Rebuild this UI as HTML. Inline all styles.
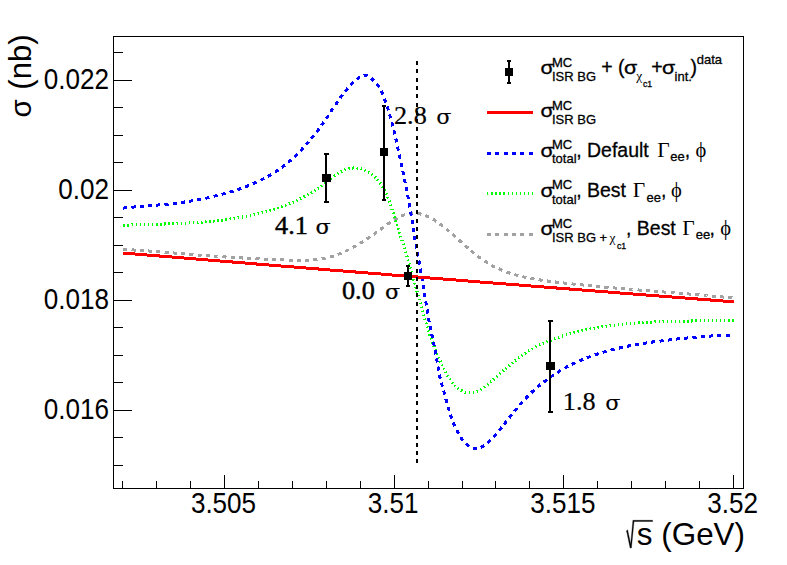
<!DOCTYPE html>
<html lang="en"><head><meta charset="utf-8"><title>cross section vs sqrt(s)</title>
<style>
html,body{margin:0;padding:0;background:#fff;}
body{width:787px;height:565px;overflow:hidden;}
svg{display:block;}
.sans{font-family:"Liberation Sans",Arial,Helvetica,sans-serif;fill:#000;}
.ser{font-family:"Liberation Serif","Times New Roman",Times,serif;fill:#000;}
.lg{stroke:#000;stroke-width:0.3px;}
.dser{font-family:"DejaVu Serif","Liberation Serif",serif;fill:#000;}
</style></head><body>
<svg width="787" height="565" viewBox="0 0 787 565">
<rect x="0" y="0" width="787" height="565" fill="#ffffff"/>
<g fill="none" shape-rendering="crispEdges" stroke-linejoin="round">
<path d="M123.3 249.4L124.0 249.4L124.7 249.5L125.4 249.5L126.1 249.5L126.8 249.6L127.5 249.6L128.2 249.7L128.9 249.7L129.6 249.7L130.3 249.8L131.0 249.8L131.8 249.9L132.5 249.9L133.2 249.9L133.9 250.0L134.6 250.0L135.3 250.1L136.0 250.1L136.7 250.2L137.4 250.2L138.1 250.3L138.9 250.3L139.6 250.4L140.3 250.4L141.0 250.4L141.7 250.5L142.4 250.5L143.1 250.6L143.8 250.6L144.6 250.7L145.3 250.7L146.0 250.8L146.7 250.8L147.4 250.9L148.1 250.9L148.8 251.0L149.5 251.1L150.3 251.1L151.0 251.2L151.7 251.2L152.4 251.3L153.1 251.3L153.8 251.4L154.5 251.4L155.3 251.5L156.0 251.5L156.7 251.6L157.4 251.6L158.1 251.7L158.8 251.8L159.6 251.8L160.3 251.9L161.0 251.9L161.7 252.0L162.4 252.0L163.1 252.1L163.9 252.2L164.6 252.2L165.3 252.3L166.0 252.3L166.7 252.4L167.4 252.5L168.2 252.5L168.9 252.6L169.6 252.6L170.3 252.7L171.0 252.7L171.7 252.8L172.5 252.9L173.2 252.9L173.9 253.0L174.6 253.0L175.3 253.1L176.0 253.2L176.8 253.2L177.5 253.3L178.2 253.3L178.9 253.4L179.6 253.5L180.3 253.5L181.1 253.6L181.8 253.6L182.5 253.7L183.2 253.8L183.9 253.8L184.6 253.9L185.4 253.9L186.1 254.0L186.8 254.1L187.5 254.1L188.2 254.2L188.9 254.2L189.7 254.3L190.4 254.4L191.1 254.4L191.8 254.5L192.5 254.5L193.2 254.6L194.0 254.7L194.7 254.7L195.4 254.8L196.1 254.8L196.8 254.9L197.5 254.9L198.2 255.0L199.0 255.1L199.7 255.1L200.4 255.2L201.1 255.2L201.8 255.3L202.5 255.3L203.2 255.4L204.0 255.5L204.7 255.5L205.4 255.6L206.1 255.6L206.8 255.7L207.5 255.7L208.2 255.8L209.0 255.8L209.7 255.9L210.4 255.9L211.1 256.0L211.8 256.0L212.5 256.1L213.2 256.2L213.9 256.2L214.6 256.3L215.4 256.3L216.1 256.4L216.8 256.4L217.5 256.5L218.2 256.5L218.9 256.6L219.6 256.6L220.3 256.7L221.0 256.7L221.7 256.7L222.5 256.8L223.2 256.8L223.9 256.9L224.6 256.9L225.3 257.0L226.0 257.0L226.7 257.1L227.4 257.1L228.1 257.2L228.8 257.2L229.5 257.2L230.2 257.3L231.0 257.3L231.7 257.4L232.4 257.4L233.1 257.5L233.8 257.5L234.5 257.5L235.2 257.6L235.9 257.6L236.6 257.7L237.3 257.7L238.0 257.7L238.7 257.8L239.4 257.8L240.2 257.9L240.9 257.9L241.6 257.9L242.3 258.0L243.0 258.0L243.7 258.1L244.4 258.1L245.1 258.1L245.8 258.2L246.5 258.2L247.2 258.2L248.0 258.3L248.7 258.3L249.4 258.4L250.1 258.4L250.8 258.4L251.5 258.5L252.2 258.5L252.9 258.5L253.6 258.6L254.3 258.6L255.1 258.6L255.8 258.7L256.5 258.7L257.2 258.7L257.9 258.8L258.6 258.8L259.3 258.8L260.0 258.9L260.7 258.9L261.5 258.9L262.2 259.0L262.9 259.0L263.6 259.0L264.3 259.1L265.0 259.1L265.8 259.1L266.5 259.2L267.2 259.2L267.9 259.2L268.6 259.3L269.3 259.3L270.1 259.3L270.8 259.4L271.5 259.4L272.2 259.4L272.9 259.4L273.7 259.5L274.4 259.5L275.1 259.5L275.8 259.6L276.5 259.6L277.3 259.6L278.0 259.7L278.7 259.7L279.4 259.7L280.2 259.8L280.9 259.8L281.6 259.8L282.3 259.8L283.1 259.9L283.8 259.9L284.5 259.9L285.2 260.0L286.0 260.0L286.7 260.0L287.4 260.0L288.2 260.1L288.9 260.1L289.6 260.1L290.4 260.2L291.1 260.2L291.8 260.2L292.6 260.2L293.3 260.2L294.0 260.3L294.7 260.3L295.5 260.3L296.2 260.3L296.9 260.3L297.7 260.3L298.4 260.3L299.1 260.3L299.9 260.3L300.6 260.3L301.3 260.3L302.0 260.3L302.8 260.3L303.5 260.3L304.2 260.3L304.9 260.3L305.7 260.3L306.4 260.2L307.1 260.2L307.8 260.2L308.6 260.2L309.3 260.1L310.0 260.1L310.7 260.0L311.4 260.0L312.2 259.9L312.9 259.9L313.6 259.8L314.3 259.8L315.0 259.7L315.7 259.6L316.4 259.5L317.1 259.5L317.9 259.4L318.6 259.3L319.3 259.2L320.0 259.1L320.7 259.0L321.4 258.9L322.1 258.7L322.8 258.6L323.4 258.5L324.1 258.4L324.8 258.2L325.5 258.1L326.2 257.9L326.9 257.8L327.6 257.6L328.2 257.4L328.9 257.3L329.6 257.1L330.3 256.9L331.0 256.7L331.6 256.5L332.3 256.3L333.0 256.1L333.6 255.9L334.3 255.7L335.0 255.5L335.6 255.2L336.3 255.0L336.9 254.8L337.6 254.5L338.3 254.3L338.9 254.0L339.6 253.8L340.2 253.5L340.9 253.2L341.5 253.0L342.2 252.7L342.8 252.4L343.4 252.1L344.1 251.9L344.7 251.6L345.4 251.3L346.0 251.0L346.6 250.7L347.3 250.4L347.9 250.1L348.5 249.7L349.2 249.4L349.8 249.1L350.4 248.8L351.1 248.5L351.7 248.1L352.3 247.8L352.9 247.4L353.6 247.1L354.2 246.8L354.8 246.4L355.4 246.1L356.1 245.7L356.7 245.3L357.3 245.0L357.9 244.6L358.5 244.3L359.1 243.9L359.8 243.5L360.4 243.1L361.0 242.8L361.6 242.4L362.2 242.0L362.8 241.6L363.4 241.2L364.0 240.8L364.6 240.4L365.2 240.0L365.8 239.6L366.5 239.2L367.1 238.8L367.7 238.4L368.3 238.0L368.9 237.6L369.5 237.2L370.1 236.8L370.7 236.4L371.3 236.0L371.9 235.6L372.5 235.2L373.1 234.7L373.7 234.3L374.3 233.9L374.9 233.5L375.5 233.0L376.0 232.6L376.6 232.2L377.2 231.8L377.8 231.3L378.4 230.9L379.0 230.5L379.6 230.0L380.2 229.6L380.8 229.2L381.4 228.7L382.0 228.3L382.6 227.9L383.2 227.4L383.8 227.0L384.4 226.6L385.0 226.1L385.5 225.7L386.1 225.3L386.7 224.8L387.3 224.4L387.9 224.0L388.5 223.6L389.1 223.1L389.7 222.7L390.3 222.3L390.9 221.9L391.5 221.5L392.1 221.1L392.7 220.7L393.3 220.3L393.9 219.9L394.5 219.5L395.1 219.2L395.7 218.8L396.3 218.5L397.0 218.1L397.6 217.8L398.2 217.5L398.8 217.1L399.4 216.8L400.1 216.5L400.7 216.2L401.3 216.0L401.9 215.7L402.6 215.4L403.2 215.2L403.9 215.0L404.5 214.7L405.2 214.5L405.8 214.3L406.5 214.2L407.1 214.0L407.8 213.9L408.5 213.7L409.1 213.6L409.8 213.5L410.5 213.4L411.2 213.4L411.9 213.3L412.5 213.3L413.2 213.3L413.9 213.3L414.6 213.3L415.4 213.3L416.1 213.4L416.8 213.4L417.5 213.5L418.2 213.6L418.9 213.8L419.6 213.9L420.3 214.0L421.0 214.2L421.7 214.4L422.5 214.6L423.2 214.8L423.8 215.0L424.5 215.2L425.2 215.5L425.9 215.7L426.6 216.0L427.2 216.3L427.9 216.6L428.6 216.9L429.2 217.2L429.8 217.5L430.5 217.8L431.1 218.2L431.7 218.5L432.3 218.9L432.9 219.2L433.5 219.6L434.1 220.0L434.7 220.4L435.3 220.8L435.9 221.2L436.5 221.6L437.1 222.0L437.7 222.4L438.2 222.8L438.8 223.2L439.4 223.6L440.0 224.0L440.5 224.5L441.1 224.9L441.7 225.3L442.3 225.8L442.8 226.2L443.4 226.6L444.0 227.1L444.5 227.5L445.1 228.0L445.6 228.4L446.2 228.9L446.7 229.3L447.3 229.8L447.9 230.3L448.4 230.7L449.0 231.2L449.5 231.7L450.1 232.1L450.6 232.6L451.2 233.1L451.7 233.6L452.3 234.0L452.8 234.5L453.4 235.0L453.9 235.5L454.4 236.0L455.0 236.5L455.5 236.9L456.1 237.4L456.6 237.9L457.2 238.4L457.7 238.9L458.2 239.4L458.8 239.9L459.3 240.4L459.9 240.8L460.4 241.3L460.9 241.8L461.5 242.3L462.0 242.8L462.6 243.3L463.1 243.8L463.7 244.3L464.2 244.8L464.7 245.2L465.3 245.7L465.8 246.2L466.4 246.7L466.9 247.2L467.5 247.6L468.0 248.1L468.6 248.6L469.1 249.1L469.7 249.6L470.2 250.0L470.8 250.5L471.3 251.0L471.9 251.4L472.4 251.9L473.0 252.4L473.5 252.8L474.1 253.3L474.6 253.7L475.2 254.2L475.8 254.6L476.3 255.1L476.9 255.5L477.5 256.0L478.0 256.4L478.6 256.8L479.2 257.3L479.7 257.7L480.3 258.1L480.9 258.5L481.5 258.9L482.0 259.3L482.6 259.8L483.2 260.2L483.8 260.6L484.4 261.0L485.0 261.3L485.6 261.7L486.1 262.1L486.7 262.5L487.3 262.9L487.9 263.2L488.5 263.6L489.2 263.9L489.8 264.3L490.4 264.6L491.0 265.0L491.6 265.3L492.2 265.7L492.8 266.0L493.5 266.3L494.1 266.6L494.7 266.9L495.3 267.3L496.0 267.6L496.6 267.9L497.2 268.2L497.9 268.4L498.5 268.7L499.2 269.0L499.8 269.3L500.4 269.6L501.1 269.8L501.7 270.1L502.4 270.4L503.0 270.6L503.7 270.9L504.3 271.1L505.0 271.4L505.7 271.6L506.3 271.9L507.0 272.1L507.7 272.4L508.3 272.6L509.0 272.8L509.7 273.0L510.3 273.2L511.0 273.5L511.7 273.7L512.4 273.9L513.0 274.1L513.7 274.3L514.4 274.5L515.1 274.7L515.8 274.9L516.4 275.1L517.1 275.3L517.8 275.4L518.5 275.6L519.2 275.8L519.9 276.0L520.6 276.1L521.3 276.3L522.0 276.5L522.7 276.6L523.4 276.8L524.0 277.0L524.7 277.1L525.4 277.3L526.1 277.4L526.8 277.6L527.6 277.7L528.3 277.9L529.0 278.0L529.7 278.1L530.4 278.3L531.1 278.4L531.8 278.5L532.5 278.7L533.2 278.8L533.9 278.9L534.6 279.1L535.3 279.2L536.0 279.3L536.8 279.4L537.5 279.5L538.2 279.6L538.9 279.8L539.6 279.9L540.3 280.0L541.1 280.1L541.8 280.2L542.5 280.3L543.2 280.4L543.9 280.5L544.6 280.6L545.4 280.7L546.1 280.8L546.8 280.9L547.5 281.0L548.2 281.1L549.0 281.2L549.7 281.3L550.4 281.4L551.1 281.5L551.8 281.6L552.6 281.7L553.3 281.7L554.0 281.8L554.7 281.9L555.4 282.0L556.2 282.1L556.9 282.2L557.6 282.3L558.3 282.4L559.0 282.4L559.8 282.5L560.5 282.6L561.2 282.7L561.9 282.8L562.6 282.9L563.4 282.9L564.1 283.0L564.8 283.1L565.5 283.2L566.2 283.3L566.9 283.3L567.7 283.4L568.4 283.5L569.1 283.6L569.8 283.7L570.5 283.7L571.3 283.8L572.0 283.9L572.7 284.0L573.4 284.0L574.1 284.1L574.8 284.2L575.6 284.3L576.3 284.3L577.0 284.4L577.7 284.5L578.4 284.6L579.1 284.6L579.8 284.7L580.6 284.8L581.3 284.9L582.0 284.9L582.7 285.0L583.4 285.1L584.1 285.2L584.9 285.2L585.6 285.3L586.3 285.4L587.0 285.4L587.7 285.5L588.4 285.6L589.1 285.6L589.9 285.7L590.6 285.8L591.3 285.9L592.0 285.9L592.7 286.0L593.4 286.1L594.1 286.1L594.8 286.2L595.6 286.3L596.3 286.3L597.0 286.4L597.7 286.5L598.4 286.5L599.1 286.6L599.8 286.7L600.5 286.7L601.3 286.8L602.0 286.9L602.7 286.9L603.4 287.0L604.1 287.1L604.8 287.1L605.5 287.2L606.2 287.2L607.0 287.3L607.7 287.4L608.4 287.4L609.1 287.5L609.8 287.6L610.5 287.6L611.2 287.7L611.9 287.7L612.6 287.8L613.4 287.9L614.1 287.9L614.8 288.0L615.5 288.1L616.2 288.1L616.9 288.2L617.6 288.2L618.3 288.3L619.0 288.4L619.7 288.4L620.5 288.5L621.2 288.5L621.9 288.6L622.6 288.7L623.3 288.7L624.0 288.8L624.7 288.8L625.4 288.9L626.1 289.0L626.8 289.0L627.6 289.1L628.3 289.1L629.0 289.2L629.7 289.2L630.4 289.3L631.1 289.4L631.8 289.4L632.5 289.5L633.2 289.5L633.9 289.6L634.7 289.7L635.4 289.7L636.1 289.8L636.8 289.8L637.5 289.9L638.2 289.9L638.9 290.0L639.6 290.1L640.3 290.1L641.0 290.2L641.8 290.2L642.5 290.3L643.2 290.3L643.9 290.4L644.6 290.5L645.3 290.5L646.0 290.6L646.7 290.6L647.4 290.7L648.1 290.7L648.8 290.8L649.6 290.8L650.3 290.9L651.0 291.0L651.7 291.0L652.4 291.1L653.1 291.1L653.8 291.2L654.5 291.2L655.2 291.3L655.9 291.3L656.7 291.4L657.4 291.5L658.1 291.5L658.8 291.6L659.5 291.6L660.2 291.7L660.9 291.7L661.6 291.8L662.3 291.9L663.0 291.9L663.8 292.0L664.5 292.0L665.2 292.1L665.9 292.1L666.6 292.2L667.3 292.2L668.0 292.3L668.7 292.4L669.4 292.4L670.2 292.5L670.9 292.5L671.6 292.6L672.3 292.6L673.0 292.7L673.7 292.8L674.4 292.8L675.1 292.9L675.8 292.9L676.6 293.0L677.3 293.0L678.0 293.1L678.7 293.2L679.4 293.2L680.1 293.3L680.8 293.3L681.5 293.4L682.2 293.4L683.0 293.5L683.7 293.6L684.4 293.6L685.1 293.7L685.8 293.7L686.5 293.8L687.2 293.8L687.9 293.9L688.7 294.0L689.4 294.0L690.1 294.1L690.8 294.1L691.5 294.2L692.2 294.3L692.9 294.3L693.7 294.4L694.4 294.4L695.1 294.5L695.8 294.6L696.5 294.6L697.2 294.7L697.9 294.7L698.7 294.8L699.4 294.9L700.1 294.9L700.8 295.0L701.5 295.0L702.2 295.1L702.9 295.2L703.7 295.2L704.4 295.3L705.1 295.3L705.8 295.4L706.5 295.5L707.2 295.5L708.0 295.6L708.7 295.7L709.4 295.7L710.1 295.8L710.8 295.9L711.5 295.9L712.3 296.0L713.0 296.0L713.7 296.1L714.4 296.2L715.1 296.2L715.8 296.3L716.6 296.4L717.3 296.4L718.0 296.5L718.7 296.6L719.4 296.6L720.2 296.7L720.9 296.8L721.6 296.8L722.3 296.9L723.0 297.0L723.8 297.0L724.5 297.1L725.2 297.2L725.9 297.2L726.6 297.3L727.4 297.4L728.1 297.5L728.8 297.5L729.5 297.6L730.2 297.7L731.0 297.7L731.7 297.8L732.4 297.9L733.1 297.9L733.9 298.0" stroke="#a2a2a2" stroke-width="3" stroke-dasharray="4.1 4.2"/>
<path d="M123.4 225.2L124.0 225.2L124.7 225.2L125.3 225.2L126.0 225.1L126.6 225.1L127.3 225.1L127.9 225.1L128.6 225.0L129.2 225.0L129.8 225.0L130.5 225.0L131.1 225.0L131.8 224.9L132.4 224.9L133.1 224.9L133.7 224.9L134.4 224.9L135.0 224.8L135.7 224.8L136.4 224.8L137.0 224.8L137.7 224.8L138.3 224.7L139.0 224.7L139.6 224.7L140.3 224.7L140.9 224.7L141.6 224.6L142.2 224.6L142.9 224.6L143.5 224.6L144.2 224.6L144.9 224.5L145.5 224.5L146.2 224.5L146.8 224.5L147.5 224.5L148.1 224.5L148.8 224.4L149.4 224.4L150.1 224.4L150.8 224.4L151.4 224.4L152.1 224.3L152.7 224.3L153.4 224.3L154.1 224.3L154.7 224.3L155.4 224.2L156.0 224.2L156.7 224.2L157.4 224.2L158.0 224.2L158.7 224.2L159.3 224.1L160.0 224.1L160.7 224.1L161.3 224.1L162.0 224.0L162.6 224.0L163.3 224.0L164.0 224.0L164.6 224.0L165.3 223.9L166.0 223.9L166.6 223.9L167.3 223.9L167.9 223.9L168.6 223.8L169.3 223.8L169.9 223.8L170.6 223.8L171.3 223.7L171.9 223.7L172.6 223.7L173.2 223.7L173.9 223.6L174.6 223.6L175.2 223.6L175.9 223.6L176.6 223.5L177.2 223.5L177.9 223.5L178.6 223.4L179.2 223.4L179.9 223.4L180.5 223.4L181.2 223.3L181.9 223.3L182.5 223.3L183.2 223.2L183.9 223.2L184.5 223.2L185.2 223.1L185.9 223.1L186.5 223.1L187.2 223.0L187.9 223.0L188.5 222.9L189.2 222.9L189.8 222.9L190.5 222.8L191.2 222.8L191.8 222.8L192.5 222.7L193.2 222.7L193.8 222.6L194.5 222.6L195.2 222.5L195.8 222.5L196.5 222.5L197.1 222.4L197.8 222.4L198.5 222.3L199.1 222.3L199.8 222.2L200.5 222.2L201.1 222.1L201.8 222.1L202.5 222.0L203.1 222.0L203.8 221.9L204.4 221.9L205.1 221.8L205.8 221.8L206.4 221.7L207.1 221.6L207.8 221.6L208.4 221.5L209.1 221.5L209.7 221.4L210.4 221.3L211.1 221.3L211.7 221.2L212.4 221.2L213.0 221.1L213.7 221.0L214.4 221.0L215.0 220.9L215.7 220.8L216.3 220.8L217.0 220.7L217.7 220.6L218.3 220.5L219.0 220.5L219.6 220.4L220.3 220.3L221.0 220.2L221.6 220.2L222.3 220.1L222.9 220.0L223.6 219.9L224.2 219.8L224.9 219.7L225.6 219.7L226.2 219.6L226.9 219.5L227.5 219.4L228.2 219.3L228.8 219.2L229.5 219.1L230.2 219.0L230.8 218.9L231.5 218.8L232.1 218.7L232.8 218.6L233.4 218.5L234.1 218.4L234.7 218.3L235.4 218.2L236.0 218.1L236.7 218.0L237.3 217.9L238.0 217.8L238.6 217.7L239.3 217.6L239.9 217.5L240.6 217.4L241.2 217.2L241.9 217.1L242.5 217.0L243.2 216.9L243.8 216.8L244.5 216.7L245.1 216.5L245.8 216.4L246.4 216.3L247.1 216.1L247.7 216.0L248.4 215.9L249.0 215.8L249.6 215.6L250.3 215.5L250.9 215.3L251.6 215.2L252.2 215.1L252.9 214.9L253.5 214.8L254.1 214.6L254.8 214.5L255.4 214.3L256.1 214.2L256.7 214.0L257.3 213.9L258.0 213.7L258.6 213.6L259.3 213.4L259.9 213.3L260.5 213.1L261.2 212.9L261.8 212.8L262.4 212.6L263.1 212.4L263.7 212.3L264.3 212.1L265.0 211.9L265.6 211.8L266.2 211.6L266.9 211.4L267.5 211.2L268.1 211.0L268.8 210.9L269.4 210.7L270.0 210.5L270.6 210.3L271.3 210.1L271.9 209.9L272.5 209.7L273.2 209.5L273.8 209.3L274.4 209.1L275.0 208.9L275.7 208.7L276.3 208.5L276.9 208.3L277.5 208.1L278.1 207.9L278.8 207.7L279.4 207.5L280.0 207.2L280.6 207.0L281.2 206.8L281.9 206.6L282.5 206.4L283.1 206.1L283.7 205.9L284.3 205.7L284.9 205.4L285.5 205.2L286.2 205.0L286.8 204.7L287.4 204.5L288.0 204.2L288.6 204.0L289.2 203.8L289.8 203.5L290.4 203.3L291.0 203.0L291.6 202.7L292.3 202.5L292.9 202.2L293.5 202.0L294.1 201.7L294.7 201.4L295.3 201.2L295.9 200.9L296.5 200.6L297.1 200.3L297.7 200.1L298.3 199.8L298.9 199.5L299.5 199.2L300.0 198.9L300.6 198.6L301.2 198.3L301.8 198.0L302.4 197.7L303.0 197.4L303.6 197.1L304.2 196.8L304.8 196.5L305.4 196.2L305.9 195.9L306.5 195.6L307.1 195.2L307.7 194.9L308.3 194.6L308.8 194.3L309.4 193.9L310.0 193.6L310.6 193.3L311.1 192.9L311.7 192.6L312.3 192.2L312.8 191.9L313.4 191.5L314.0 191.2L314.5 190.8L315.1 190.5L315.7 190.1L316.2 189.7L316.8 189.4L317.4 189.0L317.9 188.6L318.5 188.2L319.0 187.9L319.6 187.5L320.1 187.1L320.7 186.7L321.2 186.3L321.8 185.9L322.3 185.5L322.9 185.1L323.4 184.7L323.9 184.3L324.5 183.9L325.0 183.5L325.5 183.0L326.1 182.6L326.6 182.2L327.1 181.8L327.7 181.3L328.2 180.9L328.7 180.5L329.3 180.1L329.8 179.6L330.3 179.2L330.9 178.8L331.4 178.4L331.9 177.9L332.5 177.5L333.0 177.1L333.5 176.7L334.1 176.3L334.6 175.9L335.1 175.5L335.7 175.1L336.2 174.7L336.8 174.3L337.3 173.9L337.9 173.6L338.4 173.2L339.0 172.9L339.5 172.5L340.1 172.2L340.6 171.9L341.2 171.6L341.8 171.3L342.3 171.0L342.9 170.7L343.5 170.4L344.1 170.1L344.7 169.9L345.3 169.7L345.9 169.4L346.5 169.2L347.1 169.0L347.7 168.8L348.3 168.7L348.9 168.5L349.5 168.4L350.2 168.3L350.8 168.2L351.5 168.1L352.1 168.0L352.8 168.0L353.4 167.9L354.1 167.9L354.7 167.9L355.4 167.9L356.0 167.9L356.7 168.0L357.3 168.0L358.0 168.1L358.6 168.2L359.3 168.3L359.9 168.4L360.6 168.6L361.2 168.7L361.8 168.9L362.5 169.1L363.1 169.3L363.7 169.6L364.3 169.8L365.0 170.1L365.6 170.3L366.1 170.6L366.7 170.9L367.3 171.2L367.9 171.6L368.5 171.9L369.0 172.2L369.6 172.6L370.1 172.9L370.6 173.3L371.1 173.7L371.7 174.0L372.2 174.4L372.7 174.8L373.1 175.2L373.6 175.6L374.1 176.1L374.6 176.5L375.0 176.9L375.5 177.4L375.9 177.8L376.3 178.3L376.8 178.7L377.2 179.2L377.6 179.7L378.0 180.2L378.4 180.7L378.8 181.2L379.2 181.7L379.6 182.2L380.0 182.7L380.3 183.2L380.7 183.7L381.1 184.3L381.4 184.8L381.8 185.3L382.1 185.9L382.4 186.5L382.8 187.0L383.1 187.6L383.4 188.1L383.7 188.7L384.0 189.3L384.3 189.9L384.6 190.5L384.9 191.0L385.2 191.6L385.5 192.2L385.8 192.8L386.1 193.4L386.4 194.0L386.6 194.7L386.9 195.3L387.2 195.9L387.4 196.5L387.7 197.1L387.9 197.8L388.2 198.4L388.4 199.0L388.7 199.7L388.9 200.3L389.1 200.9L389.4 201.6L389.6 202.2L389.8 202.9L390.1 203.5L390.3 204.1L390.5 204.8L390.7 205.4L391.0 206.1L391.2 206.7L391.4 207.4L391.6 208.0L391.8 208.7L392.0 209.4L392.2 210.0L392.4 210.7L392.7 211.3L392.9 212.0L393.1 212.6L393.3 213.3L393.5 213.9L393.7 214.6L393.9 215.2L394.1 215.9L394.3 216.5L394.5 217.2L394.7 217.8L394.9 218.5L395.1 219.1L395.3 219.8L395.5 220.4L395.7 221.1L395.9 221.7L396.1 222.3L396.3 223.0L396.5 223.6L396.7 224.3L396.9 224.9L397.1 225.5L397.3 226.2L397.5 226.8L397.7 227.4L397.9 228.1L398.1 228.7L398.3 229.3L398.5 230.0L398.7 230.6L398.9 231.2L399.1 231.8L399.3 232.5L399.5 233.1L399.7 233.7L399.9 234.3L400.2 235.0L400.4 235.6L400.6 236.2L400.8 236.8L401.0 237.5L401.2 238.1L401.4 238.7L401.6 239.3L401.8 240.0L402.0 240.6L402.2 241.2L402.4 241.8L402.6 242.4L402.8 243.0L403.0 243.7L403.2 244.3L403.3 244.9L403.5 245.5L403.7 246.1L403.9 246.8L404.1 247.4L404.3 248.0L404.5 248.6L404.7 249.2L404.9 249.9L405.1 250.5L405.3 251.1L405.5 251.7L405.7 252.3L405.9 253.0L406.1 253.6L406.3 254.2L406.5 254.8L406.7 255.4L406.9 256.1L407.1 256.7L407.2 257.3L407.4 257.9L407.6 258.5L407.8 259.2L408.0 259.8L408.2 260.4L408.4 261.0L408.6 261.7L408.8 262.3L408.9 262.9L409.1 263.5L409.3 264.2L409.5 264.8L409.7 265.4L409.9 266.0L410.0 266.7L410.2 267.3L410.4 267.9L410.6 268.6L410.8 269.2L411.0 269.8L411.1 270.5L411.3 271.1L411.5 271.7L411.7 272.4L411.9 273.0L412.0 273.6L412.2 274.3L412.4 274.9L412.6 275.5L412.8 276.2L412.9 276.8L413.1 277.5L413.3 278.1L413.5 278.7L413.7 279.4L413.8 280.0L414.0 280.6L414.2 281.3L414.4 281.9L414.5 282.6L414.7 283.2L414.9 283.8L415.1 284.5L415.2 285.1L415.4 285.8L415.6 286.4L415.8 287.0L416.0 287.7L416.1 288.3L416.3 289.0L416.5 289.6L416.7 290.2L416.8 290.9L417.0 291.5L417.2 292.2L417.4 292.8L417.5 293.4L417.7 294.1L417.9 294.7L418.1 295.4L418.2 296.0L418.4 296.6L418.6 297.3L418.8 297.9L419.0 298.6L419.1 299.2L419.3 299.9L419.5 300.5L419.7 301.1L419.8 301.8L420.0 302.4L420.2 303.1L420.4 303.7L420.6 304.3L420.7 305.0L420.9 305.6L421.1 306.3L421.3 306.9L421.5 307.5L421.6 308.2L421.8 308.8L422.0 309.4L422.2 310.1L422.4 310.7L422.6 311.4L422.7 312.0L422.9 312.6L423.1 313.3L423.3 313.9L423.5 314.5L423.7 315.2L423.9 315.8L424.1 316.5L424.2 317.1L424.4 317.7L424.6 318.4L424.8 319.0L425.0 319.6L425.2 320.3L425.4 320.9L425.6 321.5L425.8 322.1L426.0 322.8L426.2 323.4L426.3 324.0L426.5 324.7L426.7 325.3L426.9 325.9L427.1 326.5L427.3 327.2L427.5 327.8L427.7 328.4L427.9 329.0L428.1 329.7L428.3 330.3L428.5 330.9L428.7 331.5L429.0 332.2L429.2 332.8L429.4 333.4L429.6 334.0L429.8 334.7L430.0 335.3L430.2 335.9L430.4 336.5L430.6 337.1L430.8 337.8L431.1 338.4L431.3 339.0L431.5 339.6L431.7 340.2L431.9 340.8L432.2 341.5L432.4 342.1L432.6 342.7L432.8 343.3L433.1 343.9L433.3 344.5L433.5 345.1L433.8 345.8L434.0 346.4L434.2 347.0L434.5 347.6L434.7 348.2L434.9 348.8L435.2 349.4L435.4 350.0L435.7 350.6L435.9 351.2L436.2 351.9L436.4 352.5L436.7 353.1L436.9 353.7L437.2 354.3L437.4 354.9L437.7 355.5L437.9 356.1L438.2 356.7L438.5 357.3L438.7 357.9L439.0 358.5L439.3 359.1L439.5 359.7L439.8 360.3L440.1 360.9L440.4 361.5L440.6 362.1L440.9 362.7L441.2 363.3L441.5 363.9L441.8 364.5L442.1 365.1L442.4 365.7L442.7 366.3L442.9 366.9L443.2 367.5L443.5 368.1L443.8 368.7L444.2 369.3L444.5 369.9L444.8 370.5L445.1 371.1L445.4 371.7L445.7 372.3L446.0 372.8L446.3 373.4L446.7 374.0L447.0 374.6L447.3 375.2L447.7 375.8L448.0 376.4L448.4 377.0L448.7 377.5L449.1 378.1L449.4 378.7L449.8 379.2L450.2 379.8L450.5 380.4L450.9 380.9L451.3 381.5L451.7 382.0L452.1 382.5L452.6 383.1L453.0 383.6L453.4 384.1L453.9 384.6L454.4 385.1L454.8 385.6L455.3 386.0L455.8 386.5L456.3 387.0L456.8 387.4L457.3 387.8L457.8 388.3L458.3 388.7L458.8 389.1L459.4 389.4L459.9 389.8L460.5 390.1L461.0 390.4L461.6 390.7L462.2 391.0L462.7 391.3L463.3 391.5L463.9 391.8L464.5 392.0L465.1 392.2L465.7 392.3L466.3 392.4L466.9 392.6L467.5 392.7L468.1 392.7L468.7 392.8L469.4 392.8L470.0 392.8L470.6 392.8L471.2 392.7L471.8 392.7L472.5 392.6L473.1 392.5L473.7 392.4L474.3 392.3L474.9 392.1L475.5 391.9L476.1 391.7L476.7 391.5L477.3 391.3L477.9 391.1L478.4 390.8L479.0 390.5L479.6 390.2L480.1 389.9L480.7 389.6L481.3 389.3L481.8 388.9L482.4 388.5L482.9 388.2L483.4 387.8L484.0 387.4L484.5 387.0L485.0 386.6L485.6 386.2L486.1 385.8L486.6 385.4L487.2 384.9L487.7 384.5L488.2 384.1L488.7 383.6L489.2 383.2L489.7 382.7L490.3 382.3L490.8 381.8L491.3 381.4L491.8 380.9L492.3 380.5L492.8 380.0L493.3 379.6L493.8 379.2L494.3 378.7L494.8 378.3L495.3 377.8L495.8 377.4L496.4 376.9L496.9 376.5L497.4 376.0L497.9 375.6L498.4 375.1L498.9 374.7L499.4 374.2L499.9 373.8L500.4 373.3L500.9 372.9L501.4 372.4L501.9 372.0L502.4 371.6L502.9 371.1L503.4 370.7L503.9 370.2L504.4 369.8L504.9 369.4L505.4 368.9L505.9 368.5L506.4 368.0L506.9 367.6L507.4 367.2L507.9 366.7L508.4 366.3L508.9 365.9L509.4 365.5L509.9 365.0L510.4 364.6L511.0 364.2L511.5 363.7L512.0 363.3L512.5 362.9L513.0 362.5L513.5 362.1L514.0 361.7L514.5 361.2L515.0 360.8L515.6 360.4L516.1 360.0L516.6 359.6L517.1 359.2L517.6 358.8L518.2 358.4L518.7 358.0L519.2 357.6L519.7 357.2L520.3 356.8L520.8 356.4L521.3 356.1L521.8 355.7L522.4 355.3L522.9 354.9L523.4 354.5L524.0 354.2L524.5 353.8L525.1 353.4L525.6 353.1L526.1 352.7L526.7 352.4L527.2 352.0L527.8 351.6L528.3 351.3L528.9 351.0L529.5 350.6L530.0 350.3L530.6 349.9L531.1 349.6L531.7 349.3L532.3 348.9L532.8 348.6L533.4 348.3L534.0 348.0L534.6 347.7L535.1 347.4L535.7 347.0L536.3 346.7L536.9 346.4L537.4 346.1L538.0 345.8L538.6 345.5L539.2 345.2L539.8 345.0L540.4 344.7L541.0 344.4L541.6 344.1L542.2 343.8L542.8 343.6L543.4 343.3L544.0 343.0L544.6 342.7L545.2 342.5L545.8 342.2L546.4 342.0L547.0 341.7L547.6 341.4L548.2 341.2L548.8 340.9L549.4 340.7L550.0 340.4L550.7 340.2L551.3 340.0L551.9 339.7L552.5 339.5L553.1 339.3L553.7 339.0L554.4 338.8L555.0 338.6L555.6 338.3L556.2 338.1L556.9 337.9L557.5 337.7L558.1 337.5L558.7 337.3L559.4 337.0L560.0 336.8L560.6 336.6L561.3 336.4L561.9 336.2L562.5 336.0L563.2 335.8L563.8 335.6L564.4 335.4L565.1 335.2L565.7 335.0L566.3 334.9L567.0 334.7L567.6 334.5L568.2 334.3L568.9 334.1L569.5 333.9L570.2 333.8L570.8 333.6L571.4 333.4L572.1 333.2L572.7 333.1L573.4 332.9L574.0 332.7L574.6 332.6L575.3 332.4L575.9 332.2L576.6 332.1L577.2 331.9L577.9 331.7L578.5 331.6L579.1 331.4L579.8 331.3L580.4 331.1L581.1 331.0L581.7 330.8L582.4 330.7L583.0 330.5L583.7 330.4L584.3 330.2L585.0 330.1L585.6 330.0L586.2 329.8L586.9 329.7L587.5 329.6L588.2 329.4L588.8 329.3L589.5 329.2L590.1 329.0L590.8 328.9L591.4 328.8L592.1 328.6L592.7 328.5L593.4 328.4L594.0 328.3L594.7 328.1L595.3 328.0L596.0 327.9L596.6 327.8L597.3 327.7L597.9 327.6L598.6 327.5L599.2 327.3L599.9 327.2L600.5 327.1L601.2 327.0L601.8 326.9L602.5 326.8L603.1 326.7L603.8 326.6L604.4 326.5L605.1 326.4L605.7 326.3L606.4 326.2L607.0 326.1L607.7 326.0L608.3 325.9L609.0 325.8L609.6 325.7L610.3 325.6L610.9 325.6L611.6 325.5L612.3 325.4L612.9 325.3L613.6 325.2L614.2 325.1L614.9 325.1L615.5 325.0L616.2 324.9L616.8 324.8L617.5 324.7L618.2 324.7L618.8 324.6L619.5 324.5L620.1 324.4L620.8 324.4L621.4 324.3L622.1 324.2L622.7 324.2L623.4 324.1L624.1 324.0L624.7 324.0L625.4 323.9L626.0 323.8L626.7 323.8L627.3 323.7L628.0 323.6L628.7 323.6L629.3 323.5L630.0 323.5L630.6 323.4L631.3 323.3L631.9 323.3L632.6 323.2L633.3 323.2L633.9 323.1L634.6 323.1L635.2 323.0L635.9 323.0L636.6 322.9L637.2 322.9L637.9 322.8L638.5 322.8L639.2 322.7L639.9 322.7L640.5 322.6L641.2 322.6L641.8 322.6L642.5 322.5L643.2 322.5L643.8 322.4L644.5 322.4L645.1 322.3L645.8 322.3L646.5 322.3L647.1 322.2L647.8 322.2L648.4 322.2L649.1 322.1L649.8 322.1L650.4 322.1L651.1 322.0L651.7 322.0L652.4 322.0L653.1 321.9L653.7 321.9L654.4 321.9L655.0 321.8L655.7 321.8L656.4 321.8L657.0 321.8L657.7 321.7L658.4 321.7L659.0 321.7L659.7 321.7L660.3 321.6L661.0 321.6L661.7 321.6L662.3 321.6L663.0 321.5L663.6 321.5L664.3 321.5L665.0 321.5L665.6 321.5L666.3 321.4L667.0 321.4L667.6 321.4L668.3 321.4L668.9 321.4L669.6 321.3L670.3 321.3L670.9 321.3L671.6 321.3L672.3 321.3L672.9 321.3L673.6 321.2L674.2 321.2L674.9 321.2L675.6 321.2L676.2 321.2L676.9 321.2L677.5 321.2L678.2 321.1L678.9 321.1L679.5 321.1L680.2 321.1L680.9 321.1L681.5 321.1L682.2 321.1L682.8 321.1L683.5 321.1L684.2 321.0L684.8 321.0L685.5 321.0L686.2 321.0L686.8 321.0L687.5 321.0L688.1 321.0L688.8 321.0L689.5 321.0L690.1 321.0L690.8 321.0L691.5 321.0L692.1 320.9L692.8 320.9L693.4 320.9L694.1 320.9L694.8 320.9L695.4 320.9L696.1 320.9L696.7 320.9L697.4 320.9L698.1 320.9L698.7 320.9L699.4 320.9L700.1 320.9L700.7 320.9L701.4 320.9L702.0 320.8L702.7 320.8L703.4 320.8L704.0 320.8L704.7 320.8L705.3 320.8L706.0 320.8L706.7 320.8L707.3 320.8L708.0 320.8L708.6 320.8L709.3 320.8L710.0 320.8L710.6 320.8L711.3 320.8L711.9 320.8L712.6 320.8L713.3 320.7L713.9 320.7L714.6 320.7L715.2 320.7L715.9 320.7L716.6 320.7L717.2 320.7L717.9 320.7L718.5 320.7L719.2 320.7L719.9 320.7L720.5 320.7L721.2 320.7L721.8 320.7L722.5 320.6L723.1 320.6L723.8 320.6L724.5 320.6L725.1 320.6L725.8 320.6L726.4 320.6L727.1 320.6L727.7 320.6L728.4 320.6L729.1 320.5L729.7 320.5L730.4 320.5L731.0 320.5L731.7 320.5L732.3 320.5L733.0 320.5L733.7 320.5" stroke="#00ff00" stroke-width="3" stroke-dasharray="1.4 2.7"/>
<path d="M123.2 208.1L124.0 208.0L124.8 207.9L125.7 207.8L126.5 207.7L127.3 207.7L128.1 207.6L128.9 207.5L129.7 207.4L130.6 207.3L131.4 207.3L132.2 207.2L133.0 207.1L133.8 207.0L134.7 206.9L135.5 206.9L136.3 206.8L137.1 206.7L137.9 206.7L138.8 206.6L139.6 206.5L140.4 206.5L141.2 206.4L142.0 206.3L142.9 206.2L143.7 206.2L144.5 206.1L145.3 206.0L146.1 206.0L147.0 205.9L147.8 205.9L148.6 205.8L149.4 205.7L150.2 205.7L151.1 205.6L151.9 205.5L152.7 205.5L153.5 205.4L154.3 205.3L155.2 205.3L156.0 205.2L156.8 205.1L157.6 205.0L158.4 205.0L159.3 204.9L160.1 204.8L160.9 204.8L161.7 204.7L162.5 204.6L163.4 204.5L164.2 204.5L165.0 204.4L165.8 204.3L166.6 204.2L167.5 204.1L168.3 204.1L169.1 204.0L169.9 203.9L170.7 203.8L171.5 203.7L172.4 203.6L173.2 203.5L174.0 203.4L174.8 203.3L175.6 203.2L176.4 203.1L177.3 203.0L178.1 202.9L178.9 202.8L179.7 202.7L180.5 202.6L181.3 202.5L182.1 202.4L183.0 202.3L183.8 202.1L184.6 202.0L185.4 201.9L186.2 201.8L187.0 201.7L187.8 201.5L188.7 201.4L189.5 201.3L190.3 201.1L191.1 201.0L191.9 200.9L192.7 200.7L193.5 200.6L194.3 200.4L195.1 200.3L196.0 200.1L196.8 200.0L197.6 199.8L198.4 199.7L199.2 199.5L200.0 199.4L200.8 199.2L201.6 199.1L202.4 198.9L203.2 198.7L204.0 198.6L204.8 198.4L205.6 198.2L206.4 198.1L207.3 197.9L208.1 197.7L208.9 197.5L209.7 197.3L210.5 197.2L211.3 197.0L212.1 196.8L212.9 196.6L213.7 196.4L214.5 196.2L215.3 196.0L216.1 195.8L216.9 195.6L217.7 195.4L218.5 195.2L219.3 195.0L220.1 194.8L220.9 194.6L221.7 194.4L222.5 194.2L223.2 194.0L224.0 193.8L224.8 193.5L225.6 193.3L226.4 193.1L227.2 192.9L228.0 192.6L228.8 192.4L229.6 192.2L230.4 191.9L231.1 191.7L231.9 191.4L232.7 191.2L233.5 191.0L234.3 190.7L235.1 190.4L235.8 190.2L236.6 189.9L237.4 189.7L238.2 189.4L239.0 189.1L239.7 188.9L240.5 188.6L241.3 188.3L242.0 188.0L242.8 187.7L243.6 187.5L244.4 187.2L245.1 186.9L245.9 186.6L246.7 186.3L247.4 186.0L248.2 185.7L248.9 185.4L249.7 185.1L250.5 184.7L251.2 184.4L252.0 184.1L252.7 183.8L253.5 183.4L254.2 183.1L255.0 182.8L255.7 182.4L256.5 182.1L257.2 181.8L258.0 181.4L258.7 181.0L259.5 180.7L260.2 180.3L260.9 180.0L261.7 179.6L262.4 179.2L263.1 178.9L263.9 178.5L264.6 178.1L265.3 177.7L266.0 177.3L266.8 176.9L267.5 176.5L268.2 176.1L268.9 175.7L269.7 175.3L270.4 174.9L271.1 174.5L271.8 174.0L272.5 173.6L273.2 173.2L273.9 172.8L274.6 172.3L275.3 171.9L276.0 171.4L276.7 171.0L277.4 170.5L278.1 170.1L278.7 169.6L279.4 169.1L280.1 168.7L280.8 168.2L281.4 167.7L282.1 167.2L282.8 166.7L283.4 166.3L284.1 165.8L284.7 165.3L285.4 164.8L286.0 164.3L286.7 163.7L287.3 163.2L288.0 162.7L288.6 162.2L289.2 161.6L289.8 161.1L290.5 160.6L291.1 160.0L291.7 159.5L292.3 158.9L292.9 158.4L293.5 157.8L294.1 157.3L294.7 156.7L295.3 156.1L295.9 155.5L296.4 155.0L297.0 154.4L297.6 153.8L298.2 153.2L298.8 152.6L299.3 152.0L299.9 151.4L300.4 150.8L301.0 150.2L301.6 149.6L302.1 149.0L302.7 148.4L303.2 147.8L303.8 147.2L304.3 146.6L304.9 146.0L305.4 145.4L306.0 144.7L306.5 144.1L307.0 143.5L307.6 142.9L308.1 142.2L308.6 141.6L309.2 141.0L309.7 140.4L310.2 139.7L310.7 139.1L311.3 138.5L311.8 137.8L312.3 137.2L312.8 136.6L313.4 135.9L313.9 135.3L314.4 134.7L314.9 134.0L315.5 133.4L316.0 132.8L316.5 132.1L317.0 131.5L317.5 130.8L318.0 130.2L318.5 129.5L319.0 128.9L319.5 128.2L320.0 127.6L320.5 126.9L321.0 126.2L321.4 125.6L321.9 124.9L322.4 124.2L322.9 123.6L323.3 122.9L323.8 122.2L324.3 121.5L324.7 120.9L325.2 120.2L325.7 119.5L326.1 118.8L326.6 118.2L327.0 117.5L327.5 116.8L327.9 116.1L328.4 115.4L328.9 114.7L329.3 114.1L329.8 113.4L330.2 112.7L330.7 112.0L331.1 111.3L331.6 110.6L332.0 109.9L332.5 109.3L332.9 108.6L333.4 107.9L333.9 107.2L334.3 106.5L334.8 105.8L335.3 105.2L335.7 104.5L336.2 103.8L336.7 103.1L337.1 102.4L337.6 101.8L338.1 101.1L338.5 100.4L339.0 99.7L339.5 99.1L340.0 98.4L340.5 97.7L340.9 97.1L341.4 96.4L341.9 95.7L342.4 95.1L342.9 94.4L343.4 93.8L343.9 93.1L344.4 92.5L344.9 91.8L345.4 91.2L345.9 90.5L346.4 89.9L346.9 89.2L347.4 88.6L347.9 88.0L348.5 87.3L349.0 86.7L349.5 86.1L350.0 85.5L350.6 84.9L351.1 84.3L351.7 83.7L352.3 83.1L352.8 82.5L353.4 82.0L354.0 81.4L354.7 80.9L355.3 80.3L355.9 79.8L356.6 79.3L357.3 78.8L358.0 78.3L358.7 77.8L359.4 77.3L360.2 76.9L360.9 76.5L361.7 76.1L362.5 75.8L363.3 75.5L364.0 75.3L364.8 75.2L365.6 75.1L366.3 75.1L367.0 75.3L367.7 75.5L368.4 75.8L369.1 76.2L369.7 76.7L370.3 77.2L370.9 77.8L371.5 78.4L372.1 79.0L372.7 79.7L373.2 80.3L373.8 80.9L374.4 81.6L375.0 82.2L375.5 82.8L376.1 83.4L376.7 84.0L377.2 84.6L377.7 85.2L378.2 85.8L378.7 86.5L379.1 87.2L379.6 87.8L380.0 88.5L380.4 89.3L380.7 90.0L381.1 90.7L381.4 91.5L381.8 92.2L382.1 93.0L382.4 93.7L382.7 94.5L383.0 95.3L383.3 96.0L383.6 96.8L383.9 97.6L384.2 98.4L384.5 99.1L384.8 99.9L385.1 100.7L385.4 101.5L385.7 102.2L385.9 103.0L386.2 103.8L386.5 104.6L386.7 105.3L387.0 106.1L387.3 106.9L387.5 107.7L387.8 108.5L388.0 109.2L388.3 110.0L388.5 110.8L388.8 111.6L389.0 112.4L389.2 113.2L389.5 114.0L389.7 114.8L389.9 115.5L390.2 116.3L390.4 117.1L390.6 117.9L390.8 118.7L391.0 119.5L391.3 120.3L391.5 121.1L391.7 121.9L391.9 122.7L392.1 123.5L392.3 124.3L392.5 125.1L392.7 125.9L392.9 126.7L393.1 127.5L393.3 128.3L393.5 129.0L393.7 129.8L393.9 130.6L394.1 131.4L394.3 132.2L394.5 133.0L394.7 133.8L394.9 134.6L395.1 135.4L395.2 136.3L395.4 137.1L395.6 137.9L395.8 138.7L396.0 139.5L396.2 140.3L396.3 141.1L396.5 141.9L396.7 142.7L396.9 143.5L397.0 144.3L397.2 145.1L397.4 145.9L397.6 146.7L397.8 147.5L397.9 148.3L398.1 149.1L398.3 149.9L398.5 150.7L398.6 151.5L398.8 152.3L399.0 153.1L399.1 153.9L399.3 154.7L399.5 155.5L399.7 156.3L399.8 157.1L400.0 157.9L400.2 158.8L400.4 159.6L400.5 160.4L400.7 161.2L400.9 162.0L401.0 162.8L401.2 163.6L401.4 164.4L401.6 165.2L401.7 166.0L401.9 166.8L402.1 167.6L402.2 168.4L402.4 169.2L402.6 170.0L402.7 170.8L402.9 171.6L403.1 172.4L403.3 173.2L403.4 174.0L403.6 174.8L403.8 175.7L403.9 176.5L404.1 177.3L404.3 178.1L404.4 178.9L404.6 179.7L404.8 180.5L404.9 181.3L405.1 182.1L405.3 182.9L405.4 183.7L405.6 184.5L405.7 185.3L405.9 186.1L406.1 186.9L406.2 187.7L406.4 188.5L406.6 189.4L406.7 190.2L406.9 191.0L407.0 191.8L407.2 192.6L407.4 193.4L407.5 194.2L407.7 195.0L407.8 195.8L408.0 196.6L408.1 197.4L408.3 198.2L408.4 199.0L408.6 199.9L408.7 200.7L408.9 201.5L409.0 202.3L409.2 203.1L409.3 203.9L409.5 204.7L409.6 205.5L409.8 206.3L409.9 207.1L410.0 208.0L410.2 208.8L410.3 209.6L410.5 210.4L410.6 211.2L410.7 212.0L410.8 212.8L411.0 213.6L411.1 214.4L411.2 215.3L411.4 216.1L411.5 216.9L411.6 217.7L411.7 218.5L411.9 219.3L412.0 220.1L412.1 221.0L412.2 221.8L412.4 222.6L412.5 223.4L412.6 224.2L412.7 225.0L412.9 225.8L413.0 226.6L413.1 227.5L413.2 228.3L413.4 229.1L413.5 229.9L413.6 230.7L413.7 231.5L413.9 232.3L414.0 233.2L414.1 234.0L414.2 234.8L414.4 235.6L414.5 236.4L414.6 237.2L414.8 238.0L414.9 238.8L415.0 239.7L415.2 240.5L415.3 241.3L415.5 242.1L415.6 242.9L415.7 243.7L415.9 244.5L416.0 245.3L416.2 246.1L416.3 246.9L416.4 247.8L416.6 248.6L416.7 249.4L416.9 250.2L417.0 251.0L417.2 251.8L417.3 252.6L417.5 253.4L417.6 254.2L417.8 255.0L417.9 255.8L418.1 256.7L418.2 257.5L418.4 258.3L418.5 259.1L418.7 259.9L418.8 260.7L419.0 261.5L419.1 262.3L419.2 263.1L419.4 263.9L419.5 264.7L419.7 265.6L419.8 266.4L420.0 267.2L420.1 268.0L420.2 268.8L420.4 269.6L420.5 270.4L420.7 271.2L420.8 272.0L420.9 272.9L421.1 273.7L421.2 274.5L421.4 275.3L421.5 276.1L421.6 276.9L421.8 277.7L421.9 278.5L422.0 279.3L422.2 280.2L422.3 281.0L422.4 281.8L422.6 282.6L422.7 283.4L422.8 284.2L423.0 285.0L423.1 285.8L423.2 286.6L423.4 287.5L423.5 288.3L423.6 289.1L423.8 289.9L423.9 290.7L424.0 291.5L424.2 292.3L424.3 293.1L424.4 294.0L424.6 294.8L424.7 295.6L424.8 296.4L425.0 297.2L425.1 298.0L425.2 298.8L425.4 299.6L425.5 300.5L425.7 301.3L425.8 302.1L425.9 302.9L426.1 303.7L426.2 304.5L426.3 305.3L426.5 306.1L426.6 306.9L426.7 307.8L426.9 308.6L427.0 309.4L427.2 310.2L427.3 311.0L427.4 311.8L427.6 312.6L427.7 313.4L427.9 314.2L428.0 315.1L428.2 315.9L428.3 316.7L428.5 317.5L428.6 318.3L428.7 319.1L428.9 319.9L429.0 320.7L429.2 321.5L429.3 322.3L429.5 323.1L429.7 324.0L429.8 324.8L430.0 325.6L430.1 326.4L430.3 327.2L430.4 328.0L430.6 328.8L430.7 329.6L430.9 330.4L431.1 331.2L431.2 332.0L431.4 332.8L431.6 333.6L431.7 334.4L431.9 335.2L432.1 336.1L432.2 336.9L432.4 337.7L432.6 338.5L432.7 339.3L432.9 340.1L433.1 340.9L433.2 341.7L433.4 342.5L433.6 343.3L433.8 344.1L433.9 344.9L434.1 345.7L434.3 346.5L434.4 347.3L434.6 348.1L434.8 348.9L434.9 349.7L435.1 350.6L435.2 351.4L435.4 352.2L435.6 353.0L435.7 353.8L435.9 354.6L436.0 355.4L436.2 356.2L436.4 357.0L436.5 357.8L436.7 358.6L436.8 359.4L436.9 360.3L437.1 361.1L437.2 361.9L437.4 362.7L437.5 363.5L437.6 364.3L437.8 365.1L437.9 365.9L438.0 366.8L438.2 367.6L438.3 368.4L438.4 369.2L438.6 370.0L438.7 370.8L438.9 371.6L439.0 372.4L439.1 373.2L439.3 374.1L439.5 374.9L439.6 375.7L439.8 376.5L440.0 377.3L440.1 378.1L440.3 378.9L440.5 379.7L440.7 380.5L440.9 381.3L441.2 382.0L441.4 382.8L441.6 383.6L441.8 384.4L442.1 385.2L442.3 386.0L442.5 386.8L442.8 387.6L443.0 388.4L443.2 389.1L443.4 389.9L443.6 390.7L443.9 391.5L444.1 392.3L444.3 393.1L444.5 393.9L444.7 394.7L444.9 395.5L445.1 396.3L445.4 397.1L445.6 397.9L445.8 398.7L446.0 399.5L446.2 400.3L446.4 401.1L446.6 401.9L446.8 402.7L447.1 403.5L447.3 404.3L447.5 405.1L447.7 405.9L447.9 406.6L448.2 407.4L448.4 408.2L448.6 409.0L448.9 409.8L449.1 410.6L449.3 411.4L449.6 412.2L449.8 413.0L450.1 413.7L450.3 414.5L450.6 415.3L450.9 416.1L451.1 416.9L451.4 417.6L451.7 418.4L452.0 419.2L452.2 419.9L452.5 420.7L452.8 421.5L453.2 422.2L453.5 423.0L453.8 423.7L454.1 424.5L454.4 425.3L454.8 426.0L455.1 426.7L455.5 427.5L455.8 428.2L456.2 429.0L456.5 429.7L456.9 430.4L457.3 431.2L457.6 431.9L458.0 432.6L458.4 433.4L458.8 434.1L459.2 434.8L459.6 435.5L460.0 436.2L460.4 436.9L460.9 437.6L461.3 438.3L461.8 439.0L462.3 439.7L462.8 440.3L463.3 441.0L463.8 441.6L464.4 442.2L465.0 442.8L465.6 443.4L466.2 443.9L466.8 444.4L467.5 445.0L468.2 445.5L468.9 445.9L469.6 446.4L470.3 446.8L471.0 447.2L471.8 447.5L472.6 447.9L473.4 448.1L474.1 448.4L474.9 448.6L475.7 448.7L476.5 448.7L477.3 448.7L478.1 448.6L478.8 448.4L479.6 448.1L480.4 447.8L481.1 447.5L481.8 447.1L482.6 446.6L483.3 446.2L484.0 445.7L484.7 445.2L485.3 444.6L486.0 444.1L486.6 443.6L487.3 443.0L487.9 442.5L488.5 441.9L489.1 441.4L489.7 440.8L490.3 440.2L490.9 439.6L491.5 439.0L492.1 438.5L492.6 437.9L493.2 437.3L493.7 436.7L494.3 436.1L494.8 435.5L495.4 434.8L495.9 434.2L496.4 433.6L497.0 433.0L497.5 432.4L498.0 431.7L498.5 431.1L499.1 430.5L499.6 429.8L500.1 429.2L500.6 428.6L501.1 427.9L501.7 427.3L502.2 426.7L502.7 426.0L503.2 425.4L503.7 424.7L504.2 424.1L504.7 423.5L505.3 422.8L505.8 422.2L506.3 421.5L506.8 420.9L507.3 420.2L507.8 419.6L508.3 418.9L508.8 418.3L509.4 417.6L509.9 417.0L510.4 416.4L510.9 415.7L511.4 415.1L511.9 414.4L512.5 413.8L513.0 413.1L513.5 412.5L514.0 411.9L514.5 411.2L515.1 410.6L515.6 410.0L516.1 409.3L516.7 408.7L517.2 408.1L517.7 407.4L518.3 406.8L518.8 406.2L519.3 405.6L519.9 404.9L520.4 404.3L521.0 403.7L521.5 403.1L522.0 402.5L522.6 401.9L523.1 401.3L523.7 400.6L524.3 400.0L524.8 399.4L525.4 398.8L525.9 398.2L526.5 397.6L527.1 397.1L527.6 396.5L528.2 395.9L528.8 395.3L529.4 394.7L529.9 394.1L530.5 393.6L531.1 393.0L531.7 392.4L532.3 391.8L532.9 391.3L533.5 390.7L534.1 390.2L534.7 389.6L535.3 389.0L535.9 388.5L536.5 388.0L537.2 387.4L537.8 386.9L538.4 386.3L539.0 385.8L539.7 385.3L540.3 384.7L540.9 384.2L541.6 383.7L542.2 383.2L542.9 382.7L543.5 382.2L544.1 381.7L544.8 381.2L545.5 380.7L546.1 380.2L546.8 379.7L547.4 379.2L548.1 378.7L548.8 378.2L549.4 377.7L550.1 377.3L550.8 376.8L551.5 376.3L552.2 375.9L552.8 375.4L553.5 374.9L554.2 374.5L554.9 374.0L555.6 373.6L556.3 373.2L557.0 372.7L557.7 372.3L558.4 371.9L559.1 371.4L559.8 371.0L560.5 370.6L561.2 370.2L561.9 369.7L562.6 369.3L563.4 368.9L564.1 368.5L564.8 368.1L565.5 367.7L566.2 367.3L567.0 366.9L567.7 366.6L568.4 366.2L569.2 365.8L569.9 365.4L570.6 365.1L571.4 364.7L572.1 364.3L572.8 364.0L573.6 363.6L574.3 363.3L575.1 362.9L575.8 362.6L576.5 362.2L577.3 361.9L578.0 361.5L578.8 361.2L579.5 360.9L580.3 360.5L581.1 360.2L581.8 359.9L582.6 359.6L583.3 359.3L584.1 359.0L584.8 358.6L585.6 358.3L586.4 358.0L587.1 357.7L587.9 357.4L588.7 357.2L589.4 356.9L590.2 356.6L591.0 356.3L591.8 356.0L592.5 355.7L593.3 355.5L594.1 355.2L594.9 354.9L595.6 354.7L596.4 354.4L597.2 354.1L598.0 353.9L598.8 353.6L599.6 353.4L600.3 353.1L601.1 352.9L601.9 352.6L602.7 352.4L603.5 352.2L604.3 351.9L605.1 351.7L605.9 351.5L606.6 351.2L607.4 351.0L608.2 350.8L609.0 350.6L609.8 350.4L610.6 350.1L611.4 349.9L612.2 349.7L613.0 349.5L613.8 349.3L614.6 349.1L615.4 348.9L616.2 348.7L617.0 348.5L617.8 348.3L618.6 348.2L619.4 348.0L620.2 347.8L621.0 347.6L621.8 347.4L622.6 347.2L623.4 347.1L624.2 346.9L625.0 346.7L625.8 346.6L626.6 346.4L627.4 346.2L628.2 346.1L629.0 345.9L629.9 345.8L630.7 345.6L631.5 345.4L632.3 345.3L633.1 345.1L633.9 345.0L634.7 344.9L635.5 344.7L636.3 344.6L637.1 344.4L637.9 344.3L638.8 344.1L639.6 344.0L640.4 343.9L641.2 343.7L642.0 343.6L642.8 343.5L643.6 343.4L644.4 343.2L645.3 343.1L646.1 343.0L646.9 342.9L647.7 342.7L648.5 342.6L649.3 342.5L650.1 342.4L651.0 342.3L651.8 342.2L652.6 342.0L653.4 341.9L654.2 341.8L655.0 341.7L655.8 341.6L656.7 341.5L657.5 341.4L658.3 341.3L659.1 341.2L659.9 341.1L660.7 341.0L661.6 340.9L662.4 340.8L663.2 340.7L664.0 340.6L664.8 340.5L665.6 340.4L666.5 340.3L667.3 340.2L668.1 340.1L668.9 340.0L669.7 339.9L670.6 339.8L671.4 339.7L672.2 339.6L673.0 339.5L673.8 339.4L674.6 339.3L675.5 339.2L676.3 339.1L677.1 339.0L677.9 338.9L678.7 338.9L679.6 338.8L680.4 338.7L681.2 338.6L682.0 338.5L682.8 338.4L683.6 338.3L684.5 338.2L685.3 338.2L686.1 338.1L686.9 338.0L687.7 337.9L688.6 337.8L689.4 337.7L690.2 337.7L691.0 337.6L691.8 337.5L692.6 337.4L693.5 337.3L694.3 337.3L695.1 337.2L695.9 337.1L696.7 337.0L697.6 337.0L698.4 336.9L699.2 336.8L700.0 336.8L700.8 336.7L701.7 336.6L702.5 336.6L703.3 336.5L704.1 336.4L704.9 336.4L705.7 336.3L706.6 336.3L707.4 336.2L708.2 336.1L709.0 336.1L709.9 336.0L710.7 336.0L711.5 335.9L712.3 335.9L713.1 335.8L714.0 335.8L714.8 335.7L715.6 335.7L716.4 335.7L717.2 335.6L718.1 335.6L718.9 335.6L719.7 335.5L720.5 335.5L721.4 335.5L722.2 335.4L723.0 335.4L723.8 335.4L724.6 335.4L725.5 335.3L726.3 335.3L727.1 335.3L727.9 335.3L728.8 335.3L729.6 335.3L730.4 335.3L731.2 335.3L732.1 335.3L732.9 335.3L733.7 335.3" stroke="#0000ff" stroke-width="3" stroke-dasharray="4.1 4.2"/>
<path d="M123.2 253.0L133.5 253.9L143.9 254.7L154.2 255.6L164.6 256.4L174.9 257.3L185.3 258.1L195.6 259.0L206.0 259.8L216.3 260.7L226.7 261.5L237.0 262.4L247.4 263.2L257.7 264.1L268.1 264.9L278.4 265.8L288.8 266.6L299.1 267.4L309.5 268.3L319.8 269.1L330.1 270.0L340.5 270.8L350.8 271.6L361.2 272.5L371.5 273.3L381.9 274.1L392.2 275.0L402.6 275.8L412.9 276.6L423.3 277.4L433.6 278.3L444.0 279.1L454.3 279.9L464.7 280.7L475.0 281.6L485.4 282.4L495.7 283.2L506.1 284.0L516.4 284.8L526.8 285.7L537.1 286.5L547.4 287.3L557.8 288.1L568.1 288.9L578.5 289.7L588.8 290.5L599.2 291.3L609.5 292.1L619.9 293.0L630.2 293.8L640.6 294.6L650.9 295.4L661.3 296.2L671.6 297.0L682.0 297.8L692.3 298.6L702.7 299.4L713.0 300.2L723.4 301.0L733.7 301.8" stroke="#ff0000" stroke-width="3"/>
<line x1="417" y1="61" x2="417" y2="465" stroke="#000" stroke-width="2" stroke-dasharray="4 4.3"/>
</g>
<g fill="#000" shape-rendering="crispEdges">
<rect x="113" y="36" width="631" height="1"/>
<rect x="113" y="488" width="631" height="1"/>
<rect x="113" y="36" width="1" height="453"/>
<rect x="743" y="36" width="1" height="453"/>
<rect x="122" y="481" width="1" height="7"/>
<rect x="156" y="481" width="1" height="7"/>
<rect x="190" y="481" width="1" height="7"/>
<rect x="224" y="475" width="1" height="13"/>
<rect x="258" y="481" width="1" height="7"/>
<rect x="292" y="481" width="1" height="7"/>
<rect x="326" y="481" width="1" height="7"/>
<rect x="360" y="481" width="1" height="7"/>
<rect x="394" y="475" width="1" height="13"/>
<rect x="428" y="481" width="1" height="7"/>
<rect x="462" y="481" width="1" height="7"/>
<rect x="495" y="481" width="1" height="7"/>
<rect x="529" y="481" width="1" height="7"/>
<rect x="563" y="475" width="1" height="13"/>
<rect x="597" y="481" width="1" height="7"/>
<rect x="631" y="481" width="1" height="7"/>
<rect x="665" y="481" width="1" height="7"/>
<rect x="699" y="481" width="1" height="7"/>
<rect x="733" y="475" width="1" height="13"/>
<rect x="113" y="52" width="10" height="1"/>
<rect x="113" y="80" width="19" height="1"/>
<rect x="113" y="107" width="10" height="1"/>
<rect x="113" y="135" width="10" height="1"/>
<rect x="113" y="162" width="10" height="1"/>
<rect x="113" y="190" width="19" height="1"/>
<rect x="113" y="217" width="10" height="1"/>
<rect x="113" y="245" width="10" height="1"/>
<rect x="113" y="272" width="10" height="1"/>
<rect x="113" y="300" width="19" height="1"/>
<rect x="113" y="327" width="10" height="1"/>
<rect x="113" y="355" width="10" height="1"/>
<rect x="113" y="382" width="10" height="1"/>
<rect x="113" y="410" width="19" height="1"/>
<rect x="113" y="437" width="10" height="1"/>
<rect x="113" y="465" width="10" height="1"/>
</g>
<g fill="#000" shape-rendering="crispEdges">
<rect x="325" y="153" width="2" height="50"/>
<rect x="324" y="153" width="5" height="2"/>
<rect x="324" y="201" width="5" height="2"/>
<rect x="322" y="174" width="9" height="8"/>
<rect x="383" y="105" width="2" height="96"/>
<rect x="382" y="105" width="4" height="2"/>
<rect x="382" y="199" width="4" height="2"/>
<rect x="380" y="148" width="8" height="8"/>
<rect x="407" y="265" width="2" height="22"/>
<rect x="406" y="265" width="4" height="2"/>
<rect x="406" y="285" width="4" height="2"/>
<rect x="404" y="272" width="8" height="8"/>
<rect x="549" y="320" width="2" height="93"/>
<rect x="548" y="320" width="5" height="2"/>
<rect x="548" y="411" width="5" height="2"/>
<rect x="546" y="362" width="9" height="8"/>
</g>
<g class="sans" font-size="29.2px">
<text transform="translate(223.5 513.2) scale(0.893 1)" text-anchor="middle">3.505</text>
<text transform="translate(393.2 513.2) scale(0.893 1)" text-anchor="middle">3.51</text>
<text transform="translate(562.8 513.2) scale(0.893 1)" text-anchor="middle">3.515</text>
<text transform="translate(732.5 513.2) scale(0.893 1)" text-anchor="middle">3.52</text>
<text transform="translate(109.0 89.0) scale(0.893 1)" text-anchor="end">0.022</text>
<text transform="translate(109.0 199.0) scale(0.893 1)" text-anchor="end">0.02</text>
<text transform="translate(109.0 309.0) scale(0.893 1)" text-anchor="end">0.018</text>
<text transform="translate(109.0 419.0) scale(0.893 1)" text-anchor="end">0.016</text>
</g>
<path d="M626.3 531.2 L627.6 529.7 L630.7 544.2 L632.9 520.3 L652.6 520.3 L652.6 521.5 L634.0 521.5 L631.4 548.0 L630.1 548.0 L626.9 532.6 Z" fill="#000" stroke="#000" stroke-width="0.35"/>
<text class="sans" font-size="31.4px" x="745.0" y="545.2" text-anchor="end">s (GeV)</text>
<text class="sans" font-size="31px" transform="translate(31.2 34.5) rotate(-90)" text-anchor="end">(nb)</text>
<text class="sans" font-size="29.5px" transform="translate(31.2 117.6) rotate(-90)">σ</text>
<g class="ser" font-size="25.2px">
<text transform="translate(394.0 123.8) scale(1.04 1)" stroke="#000" stroke-width="0.20">2.8</text>
<text class="dser" font-size="20.6px" stroke="#000" stroke-width="0.10" transform="translate(436.2 123.8) scale(1.08 1)">σ</text>
<text transform="translate(275.1 233.8) scale(1.04 1)" stroke="#000" stroke-width="0.45">4.1</text>
<text class="dser" font-size="20.6px" stroke="#000" stroke-width="0.23" transform="translate(315.5 233.8) scale(1.08 1)">σ</text>
<text transform="translate(342.0 298.8) scale(1.04 1)" stroke="#000" stroke-width="0.45">0.0</text>
<text class="dser" font-size="20.6px" stroke="#000" stroke-width="0.23" transform="translate(385.1 298.8) scale(1.08 1)">σ</text>
<text transform="translate(562.8 409.8) scale(1.04 1)" stroke="#000" stroke-width="0.20">1.8</text>
<text class="dser" font-size="20.6px" stroke="#000" stroke-width="0.10" transform="translate(605.2 409.8) scale(1.08 1)">σ</text>
</g>
<g shape-rendering="crispEdges">
<rect x="508" y="60" width="2" height="24" fill="#000"/>
<rect x="507" y="60" width="4" height="2" fill="#000"/>
<rect x="507" y="82" width="4" height="2" fill="#000"/>
<rect x="505" y="68" width="8" height="8" fill="#000"/>
<rect x="487" y="111" width="46" height="3" fill="#ff0000"/>
<line x1="487" y1="153.5" x2="532.5" y2="153.5" stroke="#0000ff" stroke-width="3" stroke-dasharray="4.1 4.2"/>
<line x1="487" y1="193.5" x2="532.5" y2="193.5" stroke="#00ff00" stroke-width="3" stroke-dasharray="1.4 2.7"/>
<line x1="487" y1="234.5" x2="532.5" y2="234.5" stroke="#a2a2a2" stroke-width="3" stroke-dasharray="4.1 4.2"/>
</g>
<text class="sans lg" font-size="17.8px" transform="translate(540.4 74.0) scale(1.2 1)">σ</text>
<text class="sans lg" font-size="13.4px" transform="translate(552.0 66.6) scale(0.97 1)">MC</text>
<text class="sans lg" font-size="13.4px" transform="translate(552.0 80.9) scale(0.97 1)">ISR BG</text>
<text class="sans lg" font-size="20.3px" transform="translate(601.2 74.0) scale(0.96 1)">+ (</text>
<text class="sans lg" font-size="17.8px" transform="translate(624.0 74.0) scale(1.2 1)">σ</text>
<text class="ser" font-size="13.5px" x="636.2" y="80.0">χ</text>
<text class="sans lg" font-size="9.0px" transform="translate(643.0 86.7) scale(0.97 1)">c1</text>
<text class="sans lg" font-size="20.3px" transform="translate(651.2 74.0) scale(0.96 1)">+</text>
<text class="sans lg" font-size="17.8px" transform="translate(662.0 74.0) scale(1.2 1)">σ</text>
<text class="sans lg" font-size="13.4px" transform="translate(674.6 80.9) scale(0.97 1)">int.</text>
<text class="sans lg" font-size="20.3px" transform="translate(690.6 74.0) scale(0.96 1)">)</text>
<text class="sans lg" font-size="13.4px" transform="translate(696.8 64.1) scale(0.97 1)">data</text>
<text class="sans lg" font-size="17.8px" transform="translate(540.4 117.0) scale(1.2 1)">σ</text>
<text class="sans lg" font-size="13.4px" transform="translate(552.0 109.8) scale(0.97 1)">MC</text>
<text class="sans lg" font-size="13.4px" transform="translate(552.0 124.0) scale(0.97 1)">ISR BG</text>
<text class="sans lg" font-size="17.8px" transform="translate(540.4 157.0) scale(1.2 1)">σ</text>
<text class="sans lg" font-size="13.4px" transform="translate(552.0 148.9) scale(0.97 1)">MC</text>
<text class="sans lg" font-size="13.4px" transform="translate(552.0 163.2) scale(0.97 1)">total</text>
<text class="sans lg" font-size="20.3px" transform="translate(576.2 157.0) scale(0.96 1)">, Default</text>
<text class="ser" font-size="21.5px" x="657.2" y="157.0">Γ</text>
<text class="sans lg" font-size="13.4px" transform="translate(670.2 161.2) scale(0.97 1)">ee</text>
<text class="sans lg" font-size="20.3px" transform="translate(684.8 157.0) scale(0.96 1)">,</text>
<text class="ser" font-size="20.5px" x="695.4" y="157.0">ϕ</text>
<text class="sans lg" font-size="17.8px" transform="translate(540.4 197.3) scale(1.2 1)">σ</text>
<text class="sans lg" font-size="13.4px" transform="translate(552.0 189.2) scale(0.97 1)">MC</text>
<text class="sans lg" font-size="13.4px" transform="translate(552.0 203.5) scale(0.97 1)">total</text>
<text class="sans lg" font-size="20.3px" transform="translate(576.2 197.3) scale(0.96 1)">, Best</text>
<text class="ser" font-size="21.5px" x="632.8" y="197.3">Γ</text>
<text class="sans lg" font-size="13.4px" transform="translate(646.6 201.5) scale(0.97 1)">ee</text>
<text class="sans lg" font-size="20.3px" transform="translate(661.0 197.3) scale(0.96 1)">,</text>
<text class="ser" font-size="20.5px" x="671.0" y="197.3">ϕ</text>
<text class="sans lg" font-size="17.8px" transform="translate(540.4 234.6) scale(1.2 1)">σ</text>
<text class="sans lg" font-size="13.4px" transform="translate(552.0 227.5) scale(0.97 1)">MC</text>
<text class="sans lg" font-size="13.4px" transform="translate(552.0 241.9) scale(0.97 1)">ISR BG +</text>
<text class="ser" font-size="13.5px" x="609.4" y="241.6">χ</text>
<text class="sans lg" font-size="9.0px" transform="translate(617.0 248.8) scale(0.97 1)">c1</text>
<text class="sans lg" font-size="20.3px" transform="translate(626.0 234.6) scale(0.96 1)">, Best</text>
<text class="ser" font-size="21.5px" x="682.2" y="234.6">Γ</text>
<text class="sans lg" font-size="13.4px" transform="translate(695.8 238.6) scale(0.97 1)">ee</text>
<text class="sans lg" font-size="20.3px" transform="translate(709.6 234.6) scale(0.96 1)">,</text>
<text class="ser" font-size="20.5px" x="720.2" y="234.6">ϕ</text>
</svg>
</body></html>
